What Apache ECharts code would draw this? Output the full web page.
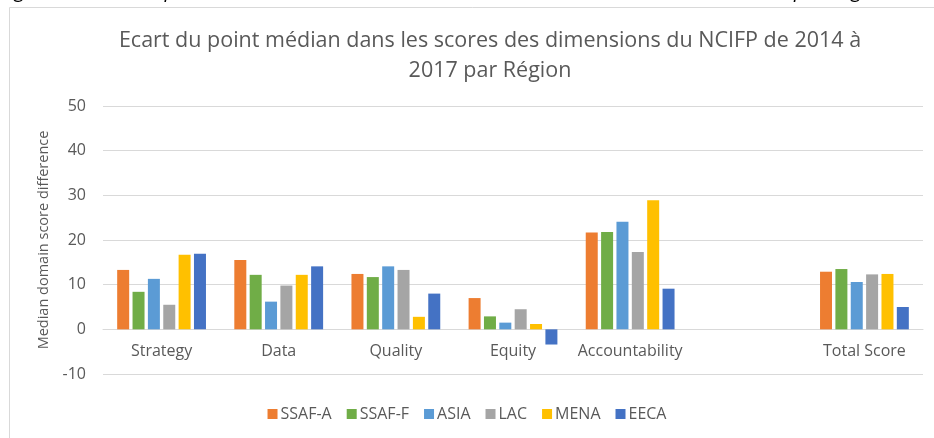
<!DOCTYPE html>
<html>
<head>
<meta charset="utf-8">
<script src="https://cdn.jsdelivr.net/npm/echarts@6/dist/echarts.min.js"></script>
<style>
  html, body { margin: 0; padding: 0; background: #fff; }
  #chart { width: 934px; height: 438px; }
</style>
</head>
<body>
<div id="chart"></div>
<script>
const categories = ['Strategy', 'Data', 'Quality', 'Equity', 'Accountability', '', 'Total Score']
const regions = ['SSAF-A', 'SSAF-F', 'ASIA', 'LAC', 'MENA', 'EECA']
const regionColors = ['#ED7D31', '#70AD47', '#5B9BD5', '#A5A5A5', '#FFC000', '#4472C4']

const ssafA = [13.3, 15.5, 12.4, 7.0, 21.7, null, 12.9]
const ssafF = [8.4, 12.2, 11.7, 2.9, 21.8, null, 13.5]
const asia = [11.3, 6.2, 14.1, 1.5, 24.1, null, 10.6]
const lac = [5.5, 9.8, 13.3, 4.5, 17.3, null, 12.3]
const mena = [16.7, 12.2, 2.8, 1.2, 28.9, null, 12.4]
const eeca = [16.9, 14.1, 8.0, -3.4, 9.1, null, 5.0]

const yTicks = { min: -10, max: 50, interval: 10 }

const textColor = '#595959'
const gridColor = '#D9D9D9'
const font = '"Open Sans", "Noto Sans", sans-serif'

const chart = echarts.init(document.getElementById('chart'))

const seriesData = [ssafA, ssafF, asia, lac, mena, eeca]

const option = {
  backgroundColor: '#fff',
  animation: false,
  textStyle: { fontFamily: font },
  title: {
    text: 'Ecart du point médian dans les scores des dimensions du NCIFP de 2014 à\n2017 par Région',
    left: 485,
    top: 21,
    textAlign: 'center',
    textStyle: {
      color: textColor,
      fontFamily: font,
      fontWeight: 'normal',
      fontSize: 21.5,
      lineHeight: 30
    }
  },
  graphic: [
    {
      type: 'rect',
      shape: { x: 9.5, y: 7.5, width: 940, height: 440 },
      style: { fill: 'none', stroke: gridColor, lineWidth: 1 },
      silent: true
    },
    {
      // caption of the figure, cut off by the top edge
      type: 'text',
      x: 0,
      y: 1,
      style: {
        text: 'Figure 3 : Ecart du point médian dans les scores des dimensions du NCIFP de 2014 à 2017 par Région',
        font: 'italic 20px ' + font,
        verticalAlign: 'bottom',
        lineHeight: 20,
        fill: '#000'
      },
      silent: true
    }
  ],
  legend: {
    data: regions,
    left: 'center',
    top: 401,
    itemWidth: 10,
    itemHeight: 10,
    itemGap: 15,
    icon: 'rect',
    textStyle: { color: textColor, fontSize: 16, fontFamily: font, padding: [0, 0, 0, -2] }
  },
  grid: {
    left: 103,
    right: 11,
    top: 106,
    bottom: 64,
    containLabel: false
  },
  xAxis: {
    type: 'category',
    data: categories,
    axisLine: { onZero: true, lineStyle: { color: gridColor, width: 1 } },
    axisTick: { show: false },
    axisLabel: { color: textColor, fontSize: 16, margin: -31, interval: 0 }
  },
  yAxis: {
    type: 'value',
    min: yTicks.min,
    max: yTicks.max,
    interval: yTicks.interval,
    name: 'Median domain score difference',
    nameLocation: 'middle',
    nameGap: 46,
    nameTextStyle: { color: textColor, fontSize: 14.5 },
    axisLine: { show: false },
    axisTick: { show: false },
    axisLabel: { color: textColor, fontSize: 16, margin: 17 },
    splitLine: { lineStyle: { color: gridColor, width: 1 } }
  },
  series: regions.map((name, i) => ({
    name,
    type: 'bar',
    data: seriesData[i],
    barWidth: 12,
    barGap: '28%',
    itemStyle: { color: regionColors[i] }
  }))
}

chart.setOption(option)
</script>
</body>
</html>
